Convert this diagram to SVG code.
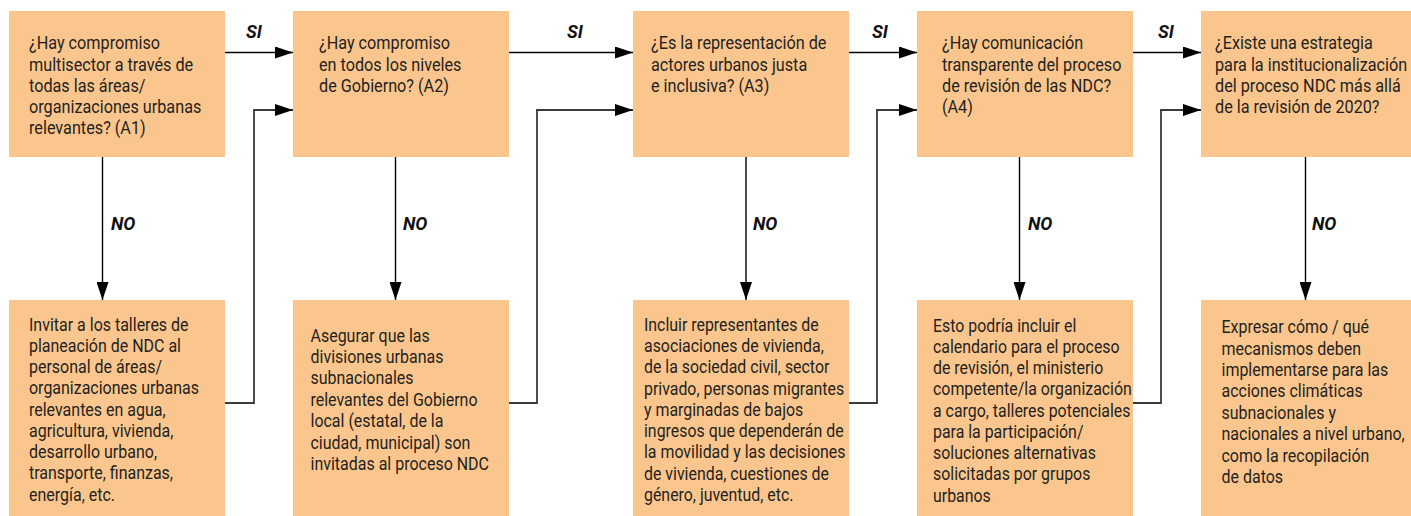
<svg xmlns="http://www.w3.org/2000/svg" width="1411" height="516" viewBox="0 0 1411 516">
<style>
.box{fill:#FBC68D}
.t{font-family:Roboto,"Liberation Sans",sans-serif;font-size:18.6px;fill:#231F20}
.lbl{font-family:Roboto,"Liberation Sans",sans-serif;font-size:18px;font-weight:bold;font-style:italic;fill:#111}
.a{fill:none;stroke:#000;stroke-width:1.4}
.r{fill:none;stroke:#3a3a3a;stroke-width:1.8}
</style>
<defs>
<marker id="ah" markerUnits="userSpaceOnUse" markerWidth="18" markerHeight="12" refX="18" refY="6" orient="auto">
<path d="M0,0 L18,6 L0,12 Z" fill="#000"/>
</marker>
</defs>
<rect width="1411" height="516" fill="#fff"/>

<g id="connectors">
<path class="a" d="M225,52.5 H293" marker-end="url(#ah)"/>
<path class="a" d="M509,52.5 H633" marker-end="url(#ah)"/>
<path class="a" d="M849,52.5 H917" marker-end="url(#ah)"/>
<path class="a" d="M1133,52.5 H1201" marker-end="url(#ah)"/>
<path class="a" d="M102.5,157 V300" marker-end="url(#ah)"/>
<path class="a" d="M395.5,157 V300" marker-end="url(#ah)"/>
<path class="a" d="M746,157 V300" marker-end="url(#ah)"/>
<path class="a" d="M1019.5,157 V300" marker-end="url(#ah)"/>
<path class="a" d="M1305.5,157 V300" marker-end="url(#ah)"/>
<path class="r" d="M225,403 H254 V110 H293" marker-end="url(#ah)"/>
<path class="r" d="M509,403 H537 V110 H633" marker-end="url(#ah)"/>
<path class="r" d="M849,403 H877 V110 H917" marker-end="url(#ah)"/>
<path class="r" d="M1133,403 H1161 V110 H1201" marker-end="url(#ah)"/>
<text class="lbl" x="246" y="38">SI</text>
<text class="lbl" x="567" y="38">SI</text>
<text class="lbl" x="872" y="38">SI</text>
<text class="lbl" x="1158" y="38">SI</text>
<text class="lbl" x="111" y="230">NO</text>
<text class="lbl" x="403" y="230">NO</text>
<text class="lbl" x="753" y="230">NO</text>
<text class="lbl" x="1028" y="230">NO</text>
<text class="lbl" x="1312" y="230">NO</text>
</g>

<g id="A1">
<rect class="box" x="9" y="11" width="216" height="146"/>
<g transform="translate(29,0) scale(0.872,1)"><text class="t" y="49.3"><tspan x="0">¿Hay compromiso</tspan><tspan x="0" dy="21.25">multisector a través de</tspan><tspan x="0" dy="21.25">todas las áreas/</tspan><tspan x="0" dy="21.25">organizaciones urbanas</tspan><tspan x="0" dy="21.25">relevantes? (A1)</tspan></text></g>
</g>
<g id="A2">
<rect class="box" x="293" y="11" width="216" height="146"/>
<g transform="translate(319,0) scale(0.872,1)"><text class="t" y="49.3"><tspan x="0">¿Hay compromiso</tspan><tspan x="0" dy="21.25">en todos los niveles</tspan><tspan x="0" dy="21.25">de Gobierno? (A2)</tspan></text></g>
</g>
<g id="A3">
<rect class="box" x="633" y="11" width="216" height="146"/>
<g transform="translate(651,0) scale(0.872,1)"><text class="t" y="49.3"><tspan x="0">¿Es la representación de</tspan><tspan x="0" dy="21.25">actores urbanos justa</tspan><tspan x="0" dy="21.25">e inclusiva? (A3)</tspan></text></g>
</g>
<g id="A4">
<rect class="box" x="917" y="11" width="216" height="146"/>
<g transform="translate(942,0) scale(0.872,1)"><text class="t" y="49.3"><tspan x="0">¿Hay comunicación</tspan><tspan x="0" dy="21.25">transparente del proceso</tspan><tspan x="0" dy="21.25">de revisión de las NDC?</tspan><tspan x="0" dy="21.25">(A4)</tspan></text></g>
</g>
<g id="A5">
<rect class="box" x="1201" y="11" width="216" height="146"/>
<g transform="translate(1215,0) scale(0.872,1)"><text class="t" y="49.3"><tspan x="0">¿Existe una estrategia</tspan><tspan x="0" dy="21.25">para la institucionalización</tspan><tspan x="0" dy="21.25">del proceso NDC más allá</tspan><tspan x="0" dy="21.25">de la revisión de 2020?</tspan></text></g>
</g>

<g id="B1">
<rect class="box" x="9" y="300" width="216" height="216"/>
<g transform="translate(29,0) scale(0.86,1)"><text class="t" y="330.7"><tspan x="0">Invitar a los talleres de</tspan><tspan x="0" dy="21.25">planeación de NDC al</tspan><tspan x="0" dy="21.25">personal de áreas/</tspan><tspan x="0" dy="21.25">organizaciones urbanas</tspan><tspan x="0" dy="21.25">relevantes en agua,</tspan><tspan x="0" dy="21.25">agricultura, vivienda,</tspan><tspan x="0" dy="21.25">desarrollo urbano,</tspan><tspan x="0" dy="21.25">transporte, finanzas,</tspan><tspan x="0" dy="21.25">energía, etc.</tspan></text></g>
</g>
<g id="B2">
<rect class="box" x="293" y="300" width="216" height="216"/>
<g transform="translate(310.5,0) scale(0.86,1)"><text class="t" y="341.7"><tspan x="0">Asegurar que las</tspan><tspan x="0" dy="21.4">divisiones urbanas</tspan><tspan x="0" dy="21.4">subnacionales</tspan><tspan x="0" dy="21.4">relevantes del Gobierno</tspan><tspan x="0" dy="21.4">local (estatal, de la</tspan><tspan x="0" dy="21.4">ciudad, municipal) son</tspan><tspan x="0" dy="21.4">invitadas al proceso NDC</tspan></text></g>
</g>
<g id="B3">
<rect class="box" x="633" y="300" width="216" height="216"/>
<g transform="translate(644,0) scale(0.855,1)"><text class="t" y="330.7"><tspan x="0">Incluir representantes de</tspan><tspan x="0" dy="21.3">asociaciones de vivienda,</tspan><tspan x="0" dy="21.3">de la sociedad civil, sector</tspan><tspan x="0" dy="21.3">privado, personas migrantes</tspan><tspan x="0" dy="21.3">y marginadas de bajos</tspan><tspan x="0" dy="21.3">ingresos que dependerán de</tspan><tspan x="0" dy="21.3">la movilidad y las decisiones</tspan><tspan x="0" dy="21.3">de vivienda, cuestiones de</tspan><tspan x="0" dy="21.3">género, juventud, etc.</tspan></text></g>
</g>
<g id="B4">
<rect class="box" x="917" y="300" width="216" height="216"/>
<g transform="translate(933,0) scale(0.855,1)"><text class="t" y="331.7"><tspan x="0">Esto podría incluir el</tspan><tspan x="0" dy="21.25">calendario para el proceso</tspan><tspan x="0" dy="21.25">de revisión, el ministerio</tspan><tspan x="0" dy="21.25">competente/la organización</tspan><tspan x="0" dy="21.25">a cargo, talleres potenciales</tspan><tspan x="0" dy="21.25">para la participación/</tspan><tspan x="0" dy="21.25">soluciones alternativas</tspan><tspan x="0" dy="21.25">solicitadas por grupos</tspan><tspan x="0" dy="21.25">urbanos</tspan></text></g>
</g>
<g id="B5">
<rect class="box" x="1201" y="300" width="216" height="216"/>
<g transform="translate(1221.5,0) scale(0.86,1)"><text class="t" y="333.3"><tspan x="0">Expresar cómo / qué</tspan><tspan x="0" dy="21.4">mecanismos deben</tspan><tspan x="0" dy="21.4">implementarse para las</tspan><tspan x="0" dy="21.4">acciones climáticas</tspan><tspan x="0" dy="21.4">subnacionales y</tspan><tspan x="0" dy="21.4">nacionales a nivel urbano,</tspan><tspan x="0" dy="21.4">como la recopilación</tspan><tspan x="0" dy="21.4">de datos</tspan></text></g>
</g>
</svg>
